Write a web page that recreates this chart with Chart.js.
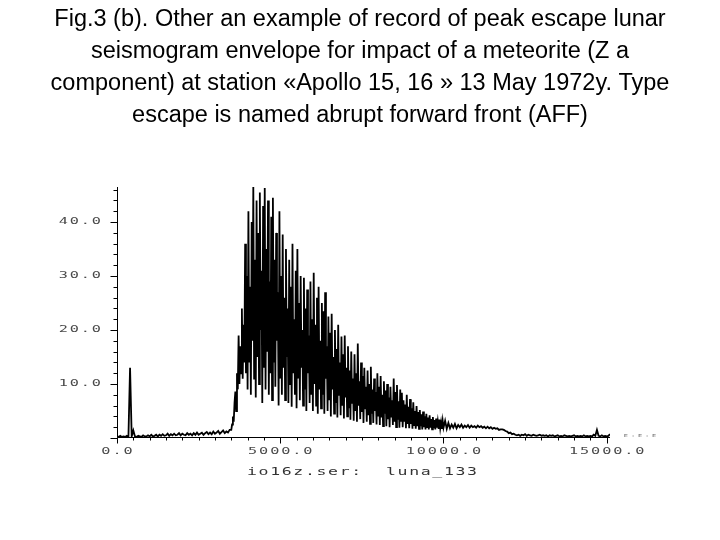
<!DOCTYPE html>
<html>
<head>
<meta charset="utf-8">
<script src="https://cdn.jsdelivr.net/npm/chart.js@4/dist/chart.umd.min.js"></script>
<style>
  html, body { margin: 0; padding: 0; background: #ffffff; }
  #wrap { width: 720px; height: 540px; }
</style>
</head>
<body>
<div id="wrap"><canvas id="c" width="720" height="540"></canvas></div>
<script>
// ---------------- data ----------------
const titleLines = [
  "Fig.3 (b). Other an example of record of peak escape lunar",
  "seismogram envelope for impact of a meteorite (Z a",
  "component) at station «Apollo 15, 16 » 13 May 1972y. Type",
  "escape is named abrupt forward front (AFF)"
];
const fileLabel = "io16z.ser:  luna_133";
const cornerLabel = "E:E:E";

// pre-event background, samples every 50 units starting at 0
const preStart = 0, preStep = 50;
const preAmplitude = [
  0.3,0.2,0.4,0.2,0.3,0.2,0.4,0.2,13.0,0.3,
  1.4,0.3,0.2,0.4,0.3,0.2,0.5,0.3,0.3,0.5,
  0.3,0.6,0.3,0.4,0.6,0.3,0.6,0.4,0.7,0.4,
  0.5,0.8,0.4,0.7,0.5,0.8,0.5,0.6,0.9,0.5,
  0.8,0.6,0.5,0.9,0.6,0.8,0.5,0.9,0.6,1.0,
  0.6,0.8,1.0,0.6,0.9,1.1,0.7,1.0,0.7,1.2,
  0.8,1.0,1.3,0.8,1.1,1.4,0.9,1.2,1.0,1.5
];

// main burst, samples every 25 units starting at 3500
const burstStart = 3500, burstStep = 25;
const burstAmplitude = [
  1.5,2.5,4.0,3.0,6.5,8.6,5.0,12.0,9.0,19.0,
  10.0,17.0,12.0,24.0,11.0,21.0,14.0,36.0,12.0,30.0,
  9.0,42.0,14.0,28.0,8.0,40.0,18.0,46.5,11.0,33.0,
  7.5,44.0,15.0,38.0,10.0,45.5,20.0,31.0,6.5,43.0,
  13.0,46.3,9.0,35.0,16.0,44.0,8.0,29.0,12.0,41.0,
  7.0,44.5,14.0,33.0,9.5,38.0,18.0,27.0,6.0,42.0,
  11.0,30.0,8.0,37.7,13.0,26.0,7.0,35.0,15.0,24.0,
  6.5,33.0,10.0,28.0,5.8,36.0,12.0,22.0,8.0,31.0,
  5.5,35.0,11.0,25.0,7.0,30.0,13.0,20.0,6.0,29.7,
  9.0,24.0,5.0,27.5,12.0,19.0,6.5,29.0,8.0,22.0,
  5.0,30.6,10.0,21.0,6.0,26.0,4.5,28.0,9.0,18.0,
  5.5,25.0,8.0,23.5,4.5,27.0,11.0,17.0,5.0,22.5,
  7.0,19.5,4.0,23.0,9.0,15.0,4.5,20.0,6.5,16.5,
  3.8,21.0,8.0,14.0,4.2,18.8,6.0,15.5,3.6,19.0,
  7.5,13.0,4.0,17.0,5.5,12.5,3.4,16.0,6.5,11.0,
  3.2,15.5,5.0,12.0,3.0,17.5,6.0,10.5,3.5,14.0,
  4.8,11.5,2.8,13.0,5.5,9.5,3.0,12.5,4.2,10.0,
  2.6,13.2,4.5,9.0,2.8,11.0,5.0,8.5,2.5,12.0,
  4.0,9.5,2.4,11.5,3.8,8.0,2.2,10.5,4.5,8.8,
  2.2,10.0,3.5,7.5,2.0,9.5,3.8,7.0,2.4,11.0,
  3.0,8.5,2.0,9.8,3.4,6.8,1.9,9.0,3.2,8.4,
  2.0,7.0,3.0,6.2,1.8,8.0,2.6,5.8,1.8,7.2,
  2.6,5.5,1.7,6.6,2.4,5.0,1.7,5.9,2.2,4.8,
  1.7,5.2,2.2,4.4,1.6,4.9,2.0,4.0,1.6,4.5,
  2.0,3.8,1.6,4.2,1.9,3.5,1.6,3.9,1.8,3.3,
  1.6,3.6,1.9,3.1,1.7,3.4,1.8,2.9,1.7,3.2
];

// coda and post-event background, samples every 50 units starting at 10000
const codaStart = 10000, codaStep = 50;
const codaAmplitude = [
  1.9,3.2,1.7,2.8,1.8,2.5,1.9,2.6,1.8,2.4,
  2.0,2.5,1.9,2.3,2.0,2.4,1.9,2.3,2.0,2.2,
  1.9,2.3,2.0,2.2,1.9,2.1,1.8,2.1,1.8,2.0,
  1.7,1.9,1.7,1.8,1.5,1.6,1.6,1.5,1.3,1.2,
  0.9,1.0,0.7,0.8,0.6,0.5,0.6,0.4,0.6,0.5,
  0.7,0.4,0.6,0.5,0.4,0.6,0.5,0.4,0.5,0.6,
  0.4,0.5,0.4,0.5,0.3,0.5,0.4,0.5,0.3,0.4,
  0.5,0.3,0.4,0.3,0.5,0.4,0.3,0.4,0.3,0.4,
  0.5,0.3,0.4,0.3,0.4,0.3,0.5,0.3,0.4,0.3,
  0.4,0.3,0.6,0.4,1.5,0.4,0.3,0.5,0.3,0.4,
  0.3,0.4,0.7
];

const xMin = 0, xMax = 15100;
const yMin = 0, yMax = 46.5;
const xTickValues = [0, 5000, 10000, 15000];
const xTickLabels = ["0.0", "5000.0", "10000.0", "15000.0"];
const xMinorStep = 500;
const yTickValues = [10, 20, 30, 40];
const yTickLabels = ["10.0", "20.0", "30.0", "40.0"];
const yMinorStep = 2;

// ---------------- build ----------------
const points = []
  .concat(preAmplitude.map((v, i) => ({ x: preStart + i * preStep, y: v })))
  .concat(burstAmplitude.map((v, i) => ({ x: burstStart + i * burstStep, y: v })))
  .concat(codaAmplitude.map((v, i) => ({ x: codaStart + i * codaStep, y: v })));

function drawStretched(ctx, text, x, y, align, size, sx, sy, spacing, color) {
  ctx.save();
  ctx.font = size + 'px "DejaVu Sans Mono", monospace';
  ctx.letterSpacing = spacing + 'px';
  const w = (ctx.measureText(text).width - spacing) * sx;
  let left = x;
  if (align === 'center') left = x - w / 2;
  else if (align === 'right') left = x - w;
  ctx.translate(left, y);
  ctx.scale(sx, sy);
  ctx.textAlign = 'left';
  ctx.textBaseline = 'middle';
  ctx.fillStyle = color;
  ctx.fillText(text, 0, 0);
  ctx.restore();
}

const axesPlugin = {
  id: 'seisAxes',
  afterDraw(chart) {
    const ctx = chart.ctx;
    const xs = chart.scales.x, ys = chart.scales.y;
    const area = chart.chartArea;
    const ax = Math.round(xs.getPixelForValue(xMin)) + 0.5;
    const ay = Math.round(ys.getPixelForValue(yMin)) - 0.5;
    ctx.save();
    ctx.strokeStyle = '#000';
    ctx.lineWidth = 1;
    ctx.beginPath();
    ctx.moveTo(ax, area.top);
    ctx.lineTo(ax, ay);
    ctx.moveTo(ax, ay);
    ctx.lineTo(xs.getPixelForValue(xMax), ay);
    for (let v = yMin; v <= yMax + 1e-6; v += yMinorStep) {
      const py = Math.round(ys.getPixelForValue(v)) + 0.5;
      const major = Math.abs(v % 10) < 1e-6;
      ctx.moveTo(ax - (major ? 7 : 4), py);
      ctx.lineTo(ax, py);
    }
    for (let v = xMin; v <= xMax + 1e-6; v += xMinorStep) {
      const px = Math.round(xs.getPixelForValue(v)) + 0.5;
      const major = Math.abs(v % 5000) < 1e-6;
      ctx.moveTo(px, ay);
      ctx.lineTo(px, ay + (major ? 6 : 3));
    }
    ctx.stroke();
    ctx.restore();

    // title
    ctx.save();
    ctx.font = '23.5px "Liberation Sans", Arial, sans-serif';
    ctx.fillStyle = '#000';
    ctx.textAlign = 'center';
    ctx.textBaseline = 'middle';
    titleLines.forEach((t, i) => ctx.fillText(t, 360, 20 + i * 32));
    ctx.restore();

    const labelColor = '#4a4a4a';
    yTickValues.forEach((v, i) => {
      drawStretched(ctx, yTickLabels[i], 101, ys.getPixelForValue(v), 'right', 8, 1.9, 1.0, 1, labelColor);
    });
    xTickValues.forEach((v, i) => {
      drawStretched(ctx, xTickLabels[i], xs.getPixelForValue(v), 452, 'center', 8, 1.9, 1.0, 1, labelColor);
    });
    drawStretched(ctx, fileLabel, 362, 472, 'center', 10, 1.65, 1.0, 1, '#333333');
    drawStretched(ctx, cornerLabel, 640, 436, 'center', 5, 1.4, 0.8, 2, '#666');
  }
};

new Chart(document.getElementById('c'), {
  type: 'line',
  data: {
    datasets: [{
      data: points,
      borderColor: '#000000',
      borderWidth: 1.8,
      pointRadius: 0,
      tension: 0,
      fill: false
    }]
  },
  options: {
    responsive: false,
    animation: false,
    devicePixelRatio: 1,
    layout: { padding: { left: 117, right: 110, top: 187, bottom: 102 } },
    scales: {
      x: { type: 'linear', min: xMin, max: xMax, display: false },
      y: { type: 'linear', min: yMin, max: yMax, display: false }
    },
    plugins: {
      legend: { display: false },
      tooltip: { enabled: false },
      title: { display: false }
    }
  },
  plugins: [axesPlugin]
});
</script>
</body>
</html>
